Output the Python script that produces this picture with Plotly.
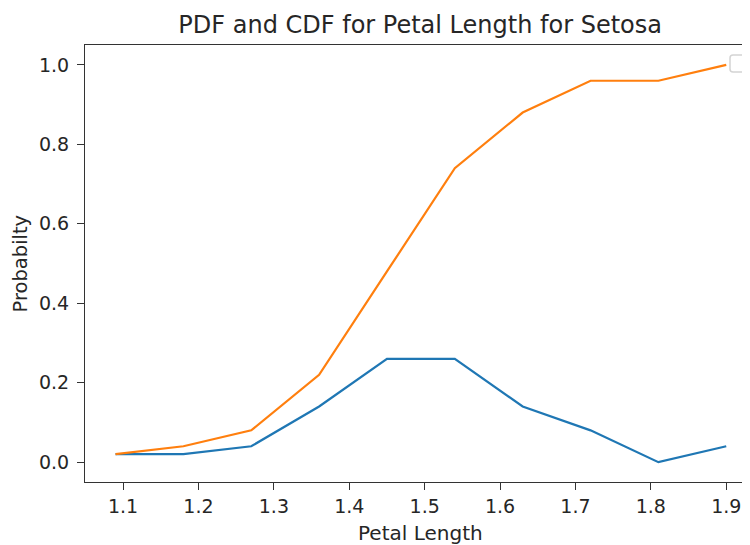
import plotly.graph_objects as go

bin_right_edges = [1.09, 1.18, 1.27, 1.36, 1.45, 1.54, 1.63, 1.72, 1.81, 1.90]
pdf_values = [0.02, 0.02, 0.04, 0.14, 0.26, 0.26, 0.14, 0.08, 0.00, 0.04]
cdf_values = [0.02, 0.04, 0.08, 0.22, 0.48, 0.74, 0.88, 0.96, 0.96, 1.00]
x_ticks = [1.1, 1.2, 1.3, 1.4, 1.5, 1.6, 1.7, 1.8, 1.9]
y_ticks = [0.0, 0.2, 0.4, 0.6, 0.8, 1.0]

fig = go.Figure()
fig.add_trace(go.Scatter(x=bin_right_edges, y=pdf_values, mode="lines",
                         line=dict(color="#1f77b4", width=2.2), showlegend=False))
fig.add_trace(go.Scatter(x=bin_right_edges, y=cdf_values, mode="lines",
                         line=dict(color="#ff7f0e", width=2.2), showlegend=False))

font = "DejaVu Sans"
W, H = 742, 537
L, T, B = 77, 37, 63
pw, ph = W - L, H - T - B

# rounded legend frame (empty legend), in pixel-derived paper coords
bx0, bx1 = (722 - L) / pw, (739 - L) / pw
by0, by1 = (T + ph - 64) / ph, (T + ph - 47) / ph
rx, ry = 3 / pw, 3 / ph
legend_path = (f"M {bx0+rx},{by0} L {bx1-rx},{by0} Q {bx1},{by0} {bx1},{by0+ry} "
               f"L {bx1},{by1-ry} Q {bx1},{by1} {bx1-rx},{by1} "
               f"L {bx0+rx},{by1} Q {bx0},{by1} {bx0},{by1-ry} "
               f"L {bx0},{by0+ry} Q {bx0},{by0} {bx0+rx},{by0} Z")

fig.update_layout(
    width=W, height=H,
    margin=dict(l=L, r=0, t=T, b=B, autoexpand=False),
    paper_bgcolor="white", plot_bgcolor="white",
    font=dict(family=font, size=19, color="#262626"),
    title=dict(text="PDF and CDF for Petal Length for Setosa", x=0.504, xref="paper",
               xanchor="center", y=1 - 17 / H, yref="container", yanchor="middle",
               font=dict(family=font, size=24, color="#262626")),
    xaxis=dict(range=[1.0495, 1.9315], tickvals=x_ticks,
               ticktext=[f"{v:.1f}" for v in x_ticks],
               showgrid=False, zeroline=False, showline=True, linecolor="#333",
               linewidth=1, mirror=True, ticks="outside", ticklen=7, tickcolor="#333",
               tickfont=dict(size=19), ticklabelstandoff=0, automargin=False),
    yaxis=dict(range=[-0.05, 1.05], tickvals=y_ticks,
               ticktext=[f"{v:.1f}" for v in y_ticks],
               showgrid=False, zeroline=False, showline=True, linecolor="#333",
               linewidth=1, ticks="outside", ticklen=7, tickcolor="#333",
               tickfont=dict(size=19), ticklabelstandoff=4, automargin=False),
    annotations=[
        dict(text="Petal Length", xref="paper", yref="paper",
             x=(412 - L) / pw, y=-(525 - (T + ph)) / ph,
             xanchor="center", yanchor="middle", showarrow=False,
             font=dict(size=20)),
        dict(text="Probabilty", xref="paper", yref="paper",
             x=(12 - L) / pw, y=0.5, textangle=-90,
             xanchor="center", yanchor="middle", showarrow=False,
             font=dict(size=19.5)),
    ],
    shapes=[dict(type="path", xref="paper", yref="paper", path=legend_path,
                 line=dict(color="#d4d4d4", width=1.5), fillcolor="white")],
)

fig.write_html("out.html")
